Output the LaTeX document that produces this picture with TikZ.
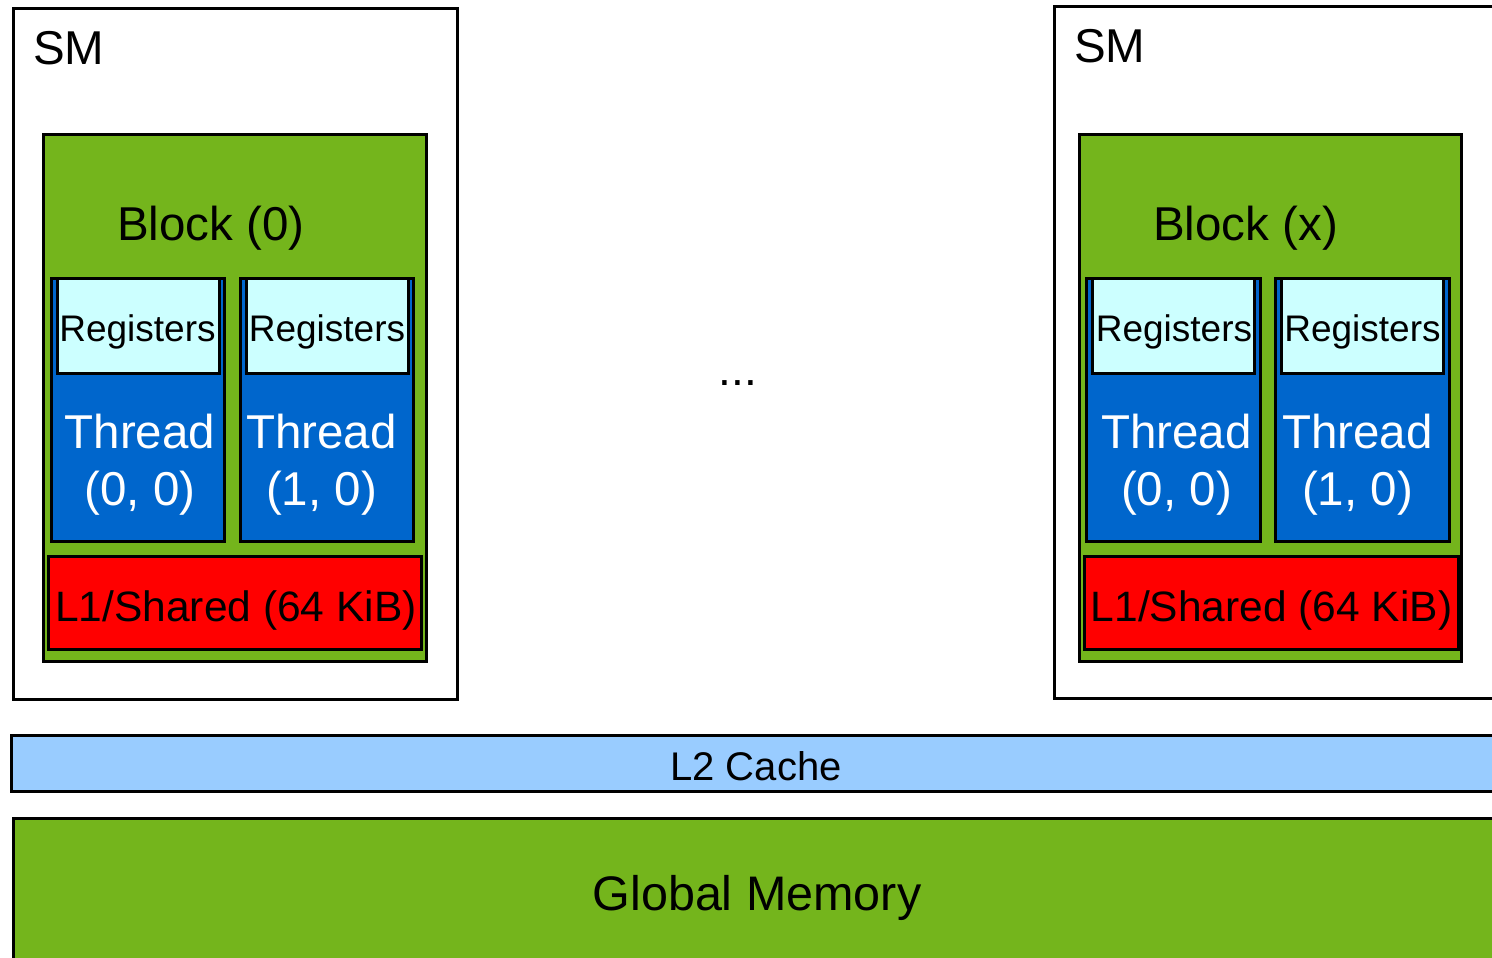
\documentclass[tikz,border=0pt]{standalone}
\usepackage{fontspec}
\setmainfont{Liberation Sans}
\definecolor{nvgreen}{HTML}{74B51C}
\definecolor{thrblue}{HTML}{0066CC}
\definecolor{regcyan}{HTML}{CCFFFF}
\definecolor{l2blue}{HTML}{99CCFF}
\definecolor{l1red}{HTML}{FF0000}
\tikzset{
  box/.style={draw=black, line width=3pt, rectangle, inner sep=0pt, outer sep=0pt, anchor=north west},
  smbox/.style={box, fill=white},
  blockbox/.style={box, fill=nvgreen},
  threadbox/.style={box, fill=thrblue},
  regbox/.style={box, fill=regcyan},
  l1box/.style={box, fill=l1red},
  l2box/.style={box, fill=l2blue},
  gmbox/.style={box, fill=nvgreen},
  txt/.style={anchor=base, inner sep=0pt, font=\fontsize{#1}{#1}\selectfont},
  wtxt/.style={txt=#1, text=white},
}
\begin{document}
\begin{tikzpicture}[x=1pt,y=-1pt]
\clip (0,0) rectangle (1492,958);
\fill[white] (0,0) rectangle (1492,958);
% SMs
\node[smbox, minimum width=444pt, minimum height=691pt] (sm0) at (13.5,8.5) {};
\node[smbox, minimum width=520pt, minimum height=692pt] (smx) at (1054.5,6.5) {};
\node[txt=47.5, anchor=base west] (sm0t) at (33,65) {SM};
\node[txt=47.5, anchor=base west] (smxt) at (1074,63) {SM};
% Blocks
\node[blockbox, minimum width=383pt, minimum height=527pt] (b0) at (43.5,134.5) {};
\node[blockbox, minimum width=382pt, minimum height=527pt] (bx) at (1079.5,134.5) {};
\node[txt=47.5, anchor=base west] (b0t) at (117,240) {Block (0)};
\node[txt=47.5, anchor=base west] (bxt) at (1153,240) {Block (x)};
% Threads
\node[threadbox, minimum width=173pt, minimum height=263pt] (t00) at (51.5,278.5) {};
\node[threadbox, minimum width=173pt, minimum height=263pt] (t01) at (240.5,278.5) {};
\node[threadbox, minimum width=174pt, minimum height=263pt] (tx0) at (1086.5,278.5) {};
\node[threadbox, minimum width=174pt, minimum height=263pt] (tx1) at (1275.5,278.5) {};
% Registers
\node[regbox, minimum width=162pt, minimum height=95pt] (r00) at (57.5,278.5) {};
\node[regbox, minimum width=162pt, minimum height=95pt] (r01) at (246.5,278.5) {};
\node[regbox, minimum width=162pt, minimum height=95pt] (rx0) at (1092.5,278.5) {};
\node[regbox, minimum width=162pt, minimum height=95pt] (rx1) at (1281.5,278.5) {};
\node[txt=37] (r00t) at (137.5,341) {Registers};
\node[txt=37] (r01t) at (327,341) {Registers};
\node[txt=37] (rx0t) at (1174,341) {Registers};
\node[txt=37] (rx1t) at (1362.5,341) {Registers};
% Thread labels
\node[wtxt=47.5] (t00a) at (140,448) {Thread};
\node[wtxt=47.5] (t00b) at (140,505) {(0, 0)};
\node[wtxt=47.5] (t01a) at (321.5,448) {Thread};
\node[wtxt=47.5] (t01b) at (321.5,505) {(1, 0)};
\node[wtxt=47.5] (tx0a) at (1176.5,448) {Thread};
\node[wtxt=47.5] (tx0b) at (1176.5,505) {(0, 0)};
\node[wtxt=47.5] (tx1a) at (1357.5,448) {Thread};
\node[wtxt=47.5] (tx1b) at (1357.5,505) {(1, 0)};
% L1
\node[l1box, minimum width=373pt, minimum height=93pt] (l10) at (48.5,556.5) {};
\node[l1box, minimum width=374pt, minimum height=93pt] (l1x) at (1084.5,556.5) {};
\node[txt=42.5] (l10t) at (236,621) {L1/Shared (64 KiB)};
\node[txt=42.5] (l1xt) at (1271.5,621) {L1/Shared (64 KiB)};
% dots
\node[txt=46] (dots) at (738,385) {...};
% L2 and global
\node[l2box, minimum width=1520pt, minimum height=56pt] (l2) at (11.5,735.5) {};
\node[txt=40] (l2t) at (756,780) {L2 Cache};
\node[gmbox, minimum width=1520pt, minimum height=300pt] (gm) at (13.5,818.5) {};
\node[txt=48.5] (gmt) at (757,910) {Global Memory};
\end{tikzpicture}
\end{document}
